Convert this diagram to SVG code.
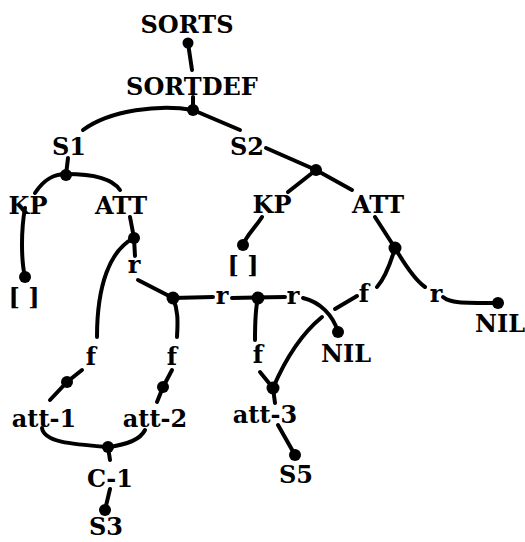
<svg xmlns="http://www.w3.org/2000/svg" width="525" height="542" viewBox="0 0 525 542">
<style>
text{font-family:"DejaVu Serif","Liberation Serif",serif;font-weight:bold;font-size:24px;fill:#000;text-anchor:middle}
.e path{fill:none;stroke:#000;stroke-width:4;stroke-linecap:round}
.e circle{fill:#000}
</style>
<rect width="525" height="542" fill="#fff"/>
<g id="connectors" class="e">
<path d="M188,43 L192,70"/><circle cx="188" cy="43" r="5.5"/>
<path d="M193,97 L193,110"/>
<path d="M193,110 C160,104 110,110 83,130"/>
<path d="M193,110 L240,130"/><circle cx="193" cy="110" r="6"/>
<path d="M68,158 L66,175"/>
<path d="M35,193 C45,178 55,174 66,174 C90,174 112,178 120,190"/><circle cx="66" cy="175" r="6"/>
<path d="M266,148 L316,170 L352,190"/><path d="M316,170 L288,192"/><circle cx="316" cy="170" r="6"/>
<path d="M25,208 C21,230 21,260 25,277"/><circle cx="25" cy="277" r="6"/>
<path d="M262,217 C255,228 246,236 243,245"/><circle cx="243" cy="245" r="6"/>
<path d="M130,217 L134,238 L135,256"/>
<path d="M134,238 C110,250 97,285 97,337"/><circle cx="134" cy="238" r="6"/>
<path d="M138,280 L173,298 L213,297"/>
<path d="M173,298 C178,310 178,320 177,337"/><circle cx="173" cy="298" r="6.5"/>
<path d="M232,298 L285,297"/>
<path d="M258,298 C255,310 255,325 255,340"/><circle cx="258" cy="298" r="6.5"/>
<path d="M303,298 C320,302 333,315 338,332"/><circle cx="338" cy="332" r="6"/>
<path d="M375,217 L395,248"/>
<path d="M395,248 C390,265 385,278 377,287"/>
<path d="M395,248 C405,265 415,280 425,287"/><circle cx="395" cy="248" r="6.5"/>
<path d="M443,297 C450,303 460,303 498,303"/><circle cx="498" cy="303" r="6"/>
<path d="M357,296 L335,309"/>
<path d="M322,317 C300,335 285,360 273,388"/>
<path d="M260,372 L273,388 L275,403"/><circle cx="273" cy="388" r="6.5"/>
<path d="M278,425 L295,455"/><circle cx="295" cy="455" r="6"/>
<path d="M82,370 L67,382 L50,400"/><circle cx="67" cy="382" r="6"/>
<path d="M172,370 L163,387 L157,402"/><circle cx="163" cy="387" r="6"/>
<path d="M42,428 C44,442 70,444 108,447"/>
<path d="M145,430 C140,440 125,445 108,447 L110,460"/><circle cx="108" cy="447" r="6"/>
<path d="M110,489 L105,510"/><circle cx="105" cy="510" r="6"/>
</g>
<g id="n-sorts"><text x="187" y="33">SORTS</text></g>
<g id="n-sortdef"><text x="192" y="95">SORTDEF</text></g>
<g id="n-s1"><text x="69" y="155">S1</text></g>
<g id="n-s2"><text x="247" y="155">S2</text></g>
<g id="n-kp1"><text x="28" y="214">KP</text></g>
<g id="n-att1"><text x="121" y="214">ATT</text></g>
<g id="n-kp2"><text x="272" y="213">KP</text></g>
<g id="n-att2"><text x="378" y="213">ATT</text></g>
<g id="n-empty1"><text x="24" y="306">[ ]</text></g>
<g id="n-empty2"><text x="243" y="274">[ ]</text></g>
<g id="n-r1"><text x="134" y="273">r</text></g>
<g id="n-r2"><text x="222" y="304">r</text></g>
<g id="n-r3"><text x="293" y="304">r</text></g>
<g id="n-f3"><text x="364" y="302">f</text></g>
<g id="n-r4"><text x="436" y="302">r</text></g>
<g id="n-nil1"><text x="346" y="362">NIL</text></g>
<g id="n-nil2"><text x="500" y="332">NIL</text></g>
<g id="n-f1"><text x="91" y="365">f</text></g>
<g id="n-f2"><text x="172" y="365">f</text></g>
<g id="n-fm"><text x="258" y="363">f</text></g>
<g id="n-att-1"><text x="44" y="427">att-1</text></g>
<g id="n-att-2"><text x="155" y="427">att-2</text></g>
<g id="n-att-3"><text x="265" y="423">att-3</text></g>
<g id="n-c1"><text x="110" y="487">C-1</text></g>
<g id="n-s5"><text x="296" y="483">S5</text></g>
<g id="n-s3"><text x="106" y="535">S3</text></g>
</svg>
